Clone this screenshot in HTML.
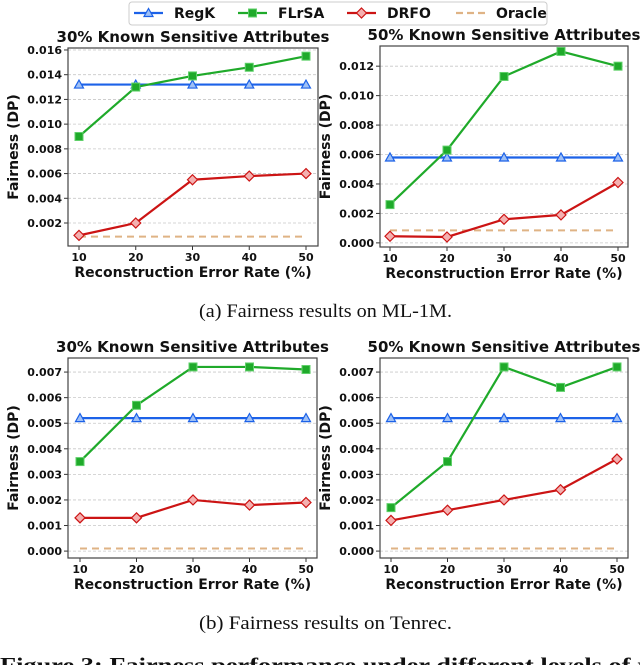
<!DOCTYPE html>
<html><head><meta charset="utf-8"><style>
body{margin:0;background:#fff;width:640px;height:665px;overflow:hidden}
svg{display:block}
text{font-family:"DejaVu Sans","Liberation Sans",sans-serif;font-weight:bold}
.cap{font-family:"Liberation Serif",serif;font-weight:normal}
</style></head><body>
<svg id="fig" width="640" height="665"></svg>
<script>
const xCats=[10,20,30,40,50];
const p1RegK=[0.0132,0.0132,0.0132,0.0132,0.0132];
const p1FLrSA=[0.009,0.013,0.0139,0.0146,0.0155];
const p1DRFO=[0.001,0.002,0.0055,0.0058,0.006];
const p1Oracle=[0.0009,0.0009,0.0009,0.0009,0.0009];
const p1Ticks=[0.002,0.004,0.006,0.008,0.010,0.012,0.014,0.016];
const p2RegK=[0.0058,0.0058,0.0058,0.0058,0.0058];
const p2FLrSA=[0.0026,0.0063,0.0113,0.013,0.012];
const p2DRFO=[0.00045,0.0004,0.0016,0.0019,0.0041];
const p2Oracle=[0.00085,0.00085,0.00085,0.00085,0.00085];
const p2Ticks=[0,0.002,0.004,0.006,0.008,0.010,0.012];
const p3RegK=[0.0052,0.0052,0.0052,0.0052,0.0052];
const p3FLrSA=[0.0035,0.0057,0.0072,0.0072,0.0071];
const p3DRFO=[0.0013,0.0013,0.002,0.0018,0.0019];
const p3Oracle=[0.0001,0.0001,0.0001,0.0001,0.0001];
const p3Ticks=[0,0.001,0.002,0.003,0.004,0.005,0.006,0.007];
const p4RegK=[0.0052,0.0052,0.0052,0.0052,0.0052];
const p4FLrSA=[0.0017,0.0035,0.0072,0.0064,0.0072];
const p4DRFO=[0.0012,0.0016,0.002,0.0024,0.0036];
const p4Oracle=[0.0001,0.0001,0.0001,0.0001,0.0001];
const p4Ticks=p3Ticks;

const NS="http://www.w3.org/2000/svg";
const svg=document.getElementById('fig');
function el(tag,attrs,parent,txt){const e=document.createElementNS(NS,tag);for(const k in attrs)e.setAttribute(k,attrs[k]);if(txt!==undefined)e.textContent=txt;(parent||svg).appendChild(e);return e;}
const C={RegK:'#1c62e8',FLrSA:'#1faa2a',DRFO:'#cc1414',Oracle:'#dfb385'};

function marker(g,type,x,y,color){
  let m;
  if(type==='tri') m=el('polygon',{points:`${x},${y-4.5} ${x-4.5},${y+3.5} ${x+4.5},${y+3.5}`,fill:'#9fc0f5',stroke:color,'stroke-width':1.2},g);
  else if(type==='sq') m=el('rect',{x:x-4,y:y-4,width:8,height:8,fill:'#1faa2a',stroke:'#5fd06a','stroke-width':1},g);
  else m=el('polygon',{points:`${x},${y-5} ${x+5},${y} ${x},${y+5} ${x-5},${y}`,fill:'#f4b0b0',stroke:color,'stroke-width':1.2},g);
  
  
}

function panel(name,box,ymin,ymax,x10,x50,ticks,tickFmt,series,title){
  const g=el('g',{},svg);
  
  
  const X=v=>x10+(v-10)/40*(x50-x10);
  const Y=v=>box.b-(v-ymin)/(ymax-ymin)*(box.b-box.t);
  ticks.forEach(t=>{
    const y=Y(t);
    const gl=el('line',{x1:box.l,x2:box.r,y1:y,y2:y,stroke:'#c8c8c8','stroke-width':0.8,'stroke-dasharray':'3,2'},g);
    
    el('line',{x1:box.l-4,x2:box.l,y1:y,y2:y,stroke:'#333','stroke-width':1},g);
    const tl=el('text',{x:box.l-6,y:y+4,'font-size':11,'text-anchor':'end',fill:'#111'},g,t.toFixed(3));
    
  });
  xCats.forEach(c=>{
    const x=X(c);
    el('line',{x1:x,x2:x,y1:box.b,y2:box.b+4,stroke:'#333','stroke-width':1},g);
    const tl=el('text',{x:x,y:box.b+15,'font-size':11,'text-anchor':'middle',fill:'#111'},g,c);
    
  });
  const defs=[['Oracle',series[3],null],['RegK',series[0],'tri'],['FLrSA',series[1],'sq'],['DRFO',series[2],'dia']];
  defs.forEach(([nm,vals,mk])=>{
    const pts=vals.map((v,i)=>X(xCats[i])+','+Y(v)).join(' ');
    const pl=el('polyline',{points:pts,fill:'none',stroke:C[nm],'stroke-width':2.2},g);
    if(nm==='Oracle'){pl.setAttribute('stroke-dasharray','7,5');pl.setAttribute('stroke-width','2');}
    
    if(mk) vals.forEach((v,i)=>marker(g,mk,X(xCats[i]),Y(v),C[nm]));
  });
  const fr=el('rect',{x:box.l,y:box.t,width:box.r-box.l,height:box.b-box.t,fill:'none',stroke:'#444','stroke-width':1.2},g);
  
  const tt=el('text',{x:(box.l+box.r)/2,y:box.t-6,'font-size':15,'text-anchor':'middle',fill:'#111'},g,title);
  
  const xl=el('text',{x:(box.l+box.r)/2,y:box.b+31,'font-size':14,'text-anchor':'middle',fill:'#111'},g,'Reconstruction Error Rate (%)');
  
  const cy=(box.t+box.b)/2;
  const yl=el('text',{x:0,y:0,'font-size':14,'text-anchor':'middle',fill:'#111',transform:`translate(${box.l-50},${cy}) rotate(-90)`},g,'Fairness (DP)');
  
}

panel('chart-ml1m-30',{l:68,r:318,t:48,b:246},0.00014,0.01616,79,306,p1Ticks,null,[p1RegK,p1FLrSA,p1DRFO,p1Oracle],'30% Known Sensitive Attributes');
panel('chart-ml1m-50',{l:380,r:628,t:46,b:247},-0.00028,0.01337,390,618,p2Ticks,null,[p2RegK,p2FLrSA,p2DRFO,p2Oracle],'50% Known Sensitive Attributes');
panel('chart-tenrec-30',{l:68,r:317,t:358,b:558},-0.00027,0.00755,80,306,p3Ticks,null,[p3RegK,p3FLrSA,p3DRFO,p3Oracle],'30% Known Sensitive Attributes');
panel('chart-tenrec-50',{l:380,r:628,t:358,b:558},-0.00027,0.00755,391,617,p4Ticks,null,[p4RegK,p4FLrSA,p4DRFO,p4Oracle],'50% Known Sensitive Attributes');

const lg=el('g',{},svg);


el('rect',{x:129,y:2,width:418,height:23,rx:3,fill:'#fff',stroke:'#ccc','stroke-width':1},lg);
const entries=[['RegK',134,'tri'],['FLrSA',238,'sq'],['DRFO',347,'dia'],['Oracle',456,null]];
entries.forEach(([nm,x,mk])=>{
  const eg=el('g',{},lg);
  
  
  const ln=el('line',{x1:x,x2:x+29,y1:13,y2:13,stroke:C[nm],'stroke-width':2.2},eg);
  if(!mk) ln.setAttribute('stroke-dasharray','7,4');
  if(mk) marker(eg,mk,x+14.5,13,C[nm]);
  el('text',{x:x+40,y:18,'font-size':14,fill:'#111'},eg,nm);
});

const c1=el('text',{x:199,y:317,'font-size':19,fill:'#111',class:'cap',textLength:253,lengthAdjust:'spacingAndGlyphs'},svg,'(a)  Fairness results on ML-1M.');

const c2=el('text',{x:199,y:629,'font-size':19,fill:'#111',class:'cap',textLength:253,lengthAdjust:'spacingAndGlyphs'},svg,'(b)  Fairness results on Tenrec.');

const c3=el('text',{x:0,y:672,'font-size':21,fill:'#111',class:'cap',style:'font-weight:bold',textLength:660,lengthAdjust:'spacingAndGlyphs'},svg,'Figure 3: Fairness performance under different levels of re');

</script>
</body></html>
